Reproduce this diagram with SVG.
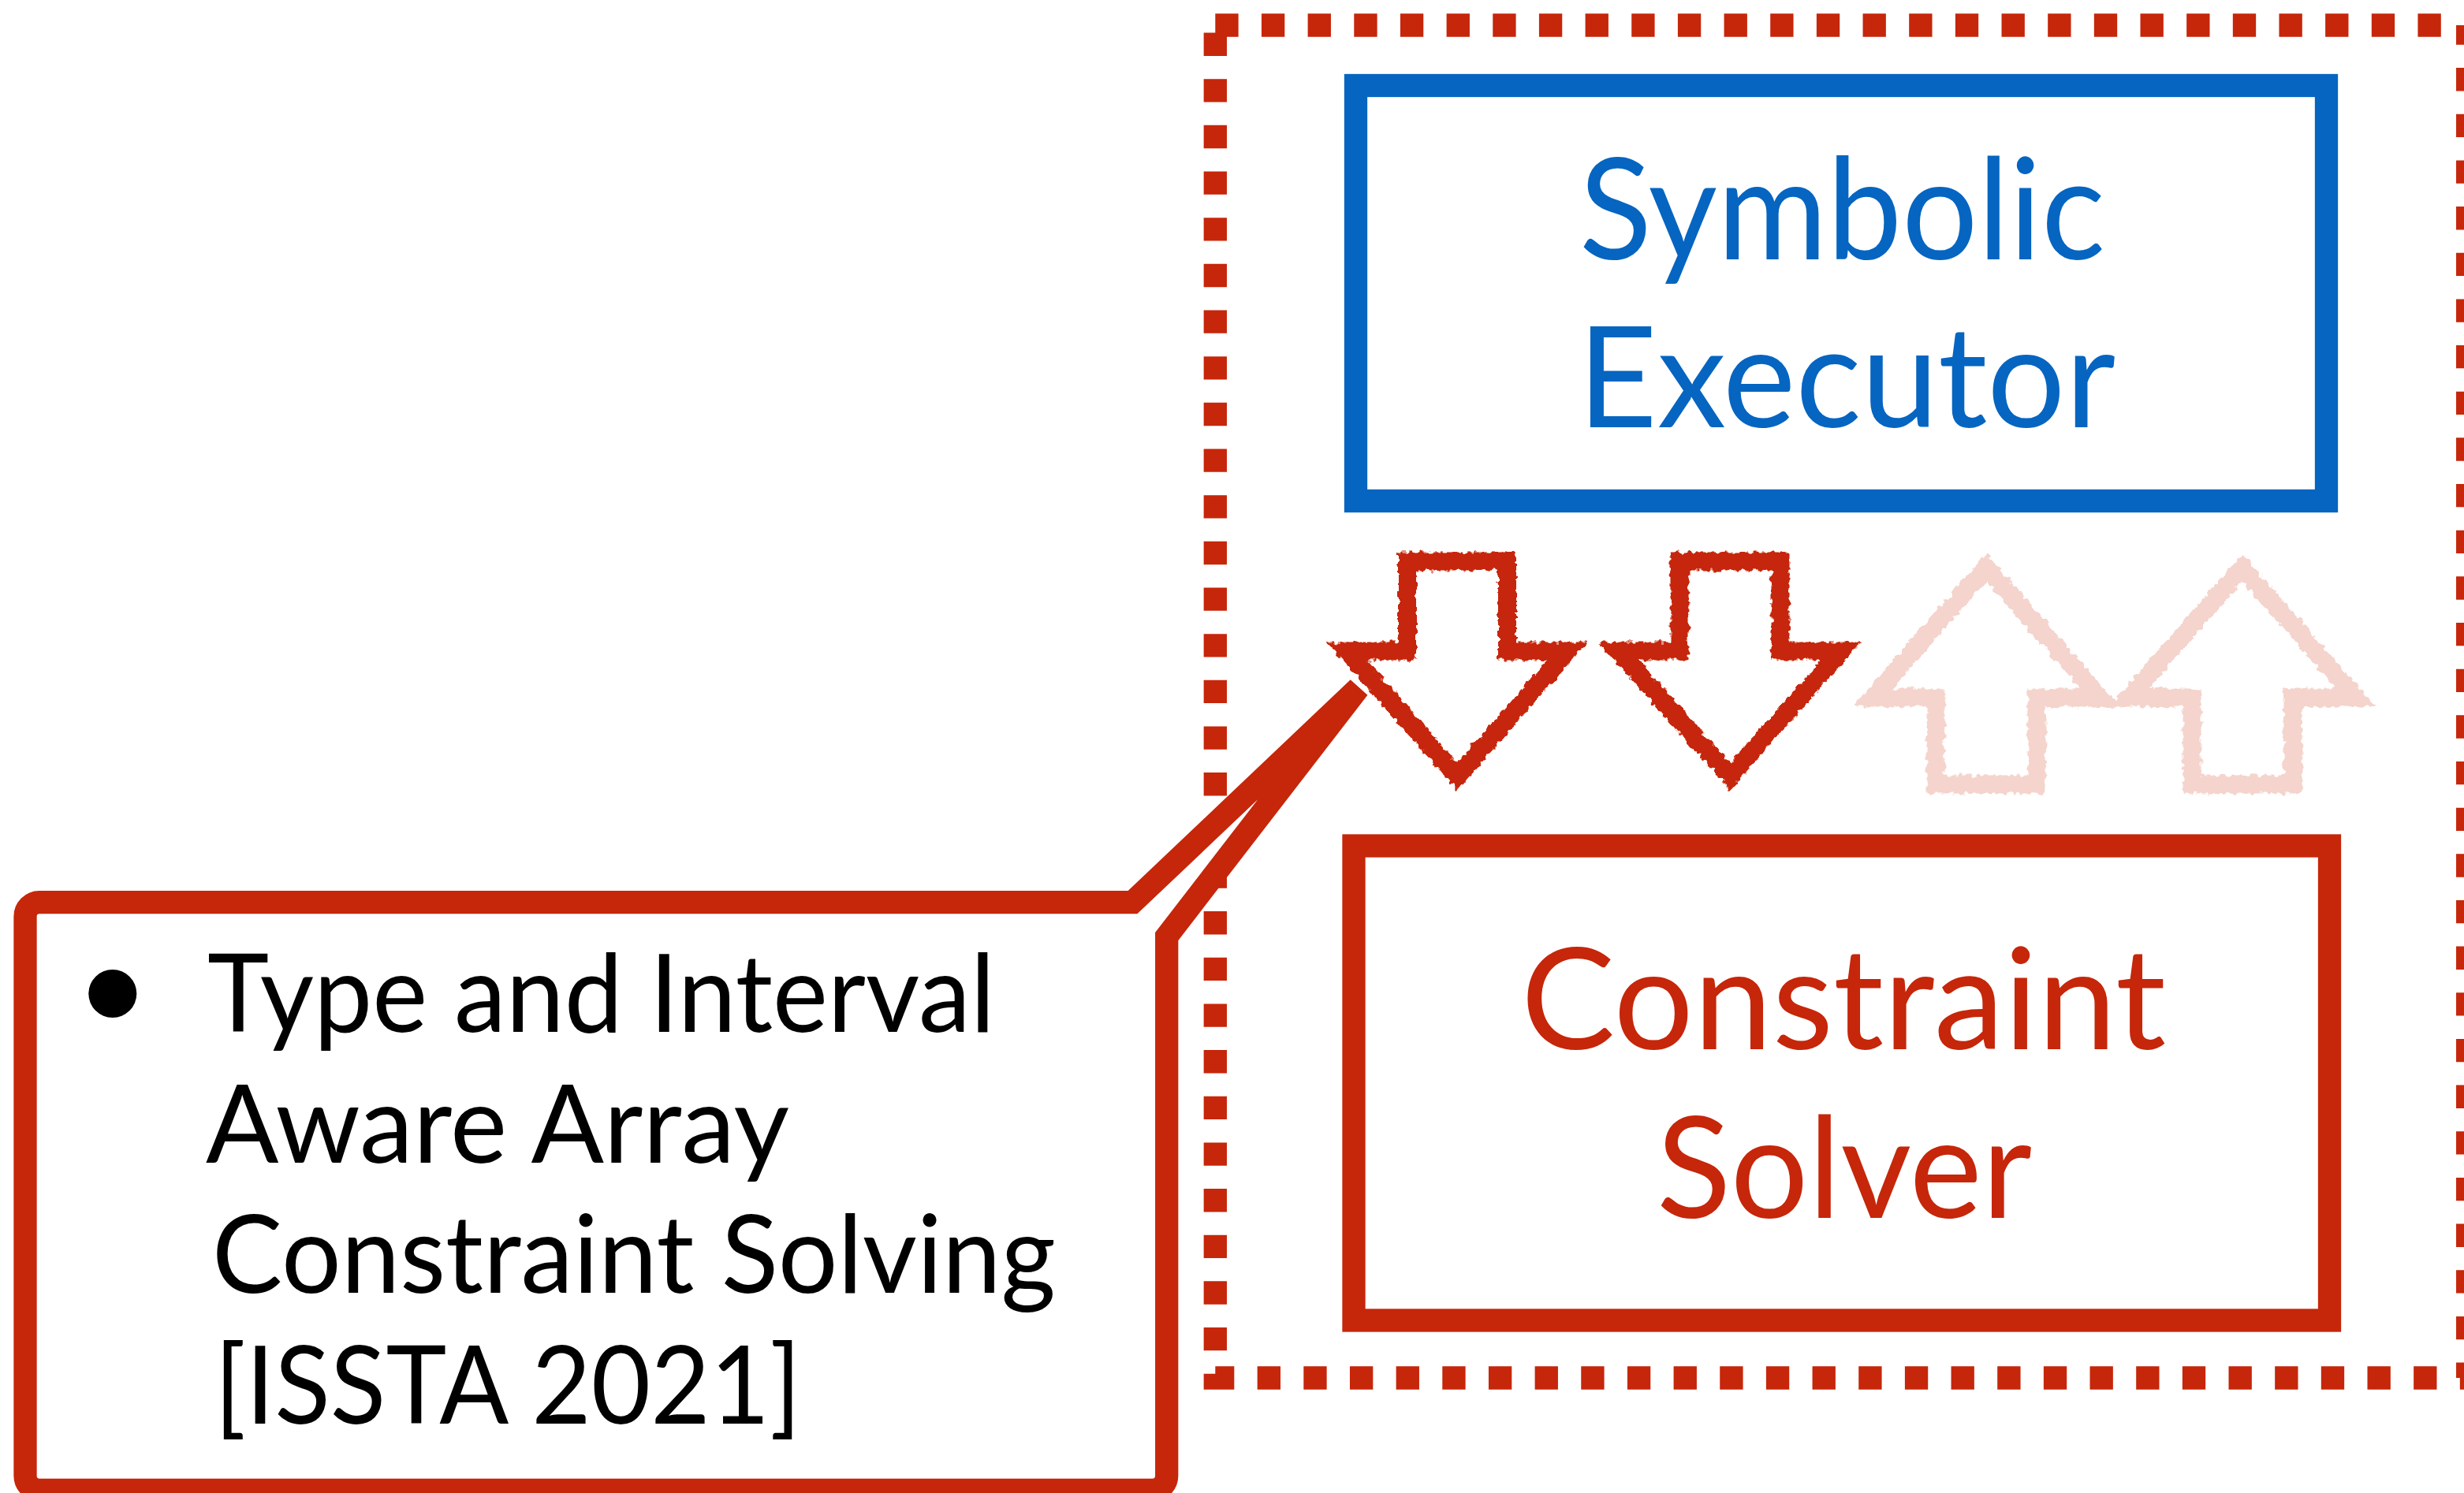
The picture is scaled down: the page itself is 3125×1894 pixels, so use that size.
<svg xmlns="http://www.w3.org/2000/svg" width="3125" height="1894" viewBox="0 0 3125 1894">
  <style>
    .red { stroke: #C6260A; }
    .label { font-family: Lato, "Open Sans", "Noto Sans", sans-serif; }
    .big { font-size: 178px; }
    .small { font-size: 137px; fill: #000000; }
    .box { fill: none; stroke-width: 29.3; stroke-linejoin: miter; }
    .sketch { fill: none; stroke-width: 23; stroke-linejoin: miter; stroke-miterlimit: 10; }
  </style>
  <defs>
    <!-- roughened pencil-like outline for the hand-drawn arrows -->
    <filter id="rough" x="-15%" y="-15%" width="130%" height="130%">
      <feTurbulence type="fractalNoise" baseFrequency="0.13" numOctaves="2" seed="7" result="noise"/>
      <feDisplacementMap in="SourceGraphic" in2="noise" scale="10" xChannelSelector="R" yChannelSelector="G"/>
    </filter>
  </defs>

  <rect width="3125" height="1894" fill="#FFFFFF"/>

  <!-- dotted frame around the engine -->
  <g id="frame">
    <path d="M1541.3 32 H3129.7 V1748 H1541.3 Z" fill="none" stroke="#C6260A" stroke-width="29.33" stroke-dasharray="29.33 29.33"/>
  </g>

  <!-- symbolic executor -->
  <g id="symbolic-executor">
    <rect class="box" x="1719.5" y="108.5" width="1231" height="527" stroke="#0565C1"/>
    <text class="label big" fill="#0565C1" x="2003" y="328.5" textLength="667" lengthAdjust="spacingAndGlyphs">Symbolic</text>
    <text class="label big" fill="#0565C1" x="2001" y="541.5" textLength="682" lengthAdjust="spacingAndGlyphs">Executor</text>
  </g>

  <!-- constraint solver -->
  <g id="constraint-solver">
    <rect class="box red" x="1717" y="1073" width="1237.5" height="602"/>
    <text class="label big" fill="#C6260A" x="1929" y="1330.7" textLength="818" lengthAdjust="spacingAndGlyphs">Constraint</text>
    <text class="label big" fill="#C6260A" x="2101" y="1544.5" textLength="476" lengthAdjust="spacingAndGlyphs">Solver</text>
  </g>

  <!-- queries down, results up -->
  <g id="connectors" filter="url(#rough)">
    <path class="sketch red" d="M1784.5 712 H1911.5 V826 H1988 L1848 985 L1708 826 H1784.5 Z"/>
    <path class="sketch red" d="M2130 712 H2258 V826 H2335 L2194 985 L2053 826 H2130 Z"/>
    <path class="sketch" stroke="#F4D4CC" d="M2455 995 H2583 V885 H2663 L2519 720 L2375 885 H2455 Z"/>
    <path class="sketch" stroke="#F4D4CC" d="M2780 995 H2908 V885 H2988 L2844 720 L2700 885 H2780 Z"/>
  </g>

  <!-- callout describing the contribution -->
  <g id="callout">
    <path d="M50 1144.7 H1436.5 L1722.8 872.8 L1479.7 1188 V1872.3 A18 18 0 0 1 1461.7 1890.3 H50 A18 18 0 0 1 32 1872.3 V1162.7 A18 18 0 0 1 50 1144.7 Z" fill="#FFFFFF" stroke="#C6260A" stroke-width="29.3" stroke-linejoin="miter" stroke-miterlimit="4"/>
    <circle cx="142.8" cy="1260.5" r="30.5" fill="#000000"/>
    <text class="label small" x="263" y="1309.4" textLength="999" lengthAdjust="spacingAndGlyphs">Type and Interval</text>
    <text class="label small" x="261" y="1475.2" textLength="740" lengthAdjust="spacingAndGlyphs">Aware Array</text>
    <text class="label small" x="269" y="1640.3" textLength="1070" lengthAdjust="spacingAndGlyphs">Constraint Solving</text>
    <text class="label small" x="272" y="1806" textLength="744" lengthAdjust="spacingAndGlyphs">[ISSTA 2021]</text>
  </g>
</svg>
